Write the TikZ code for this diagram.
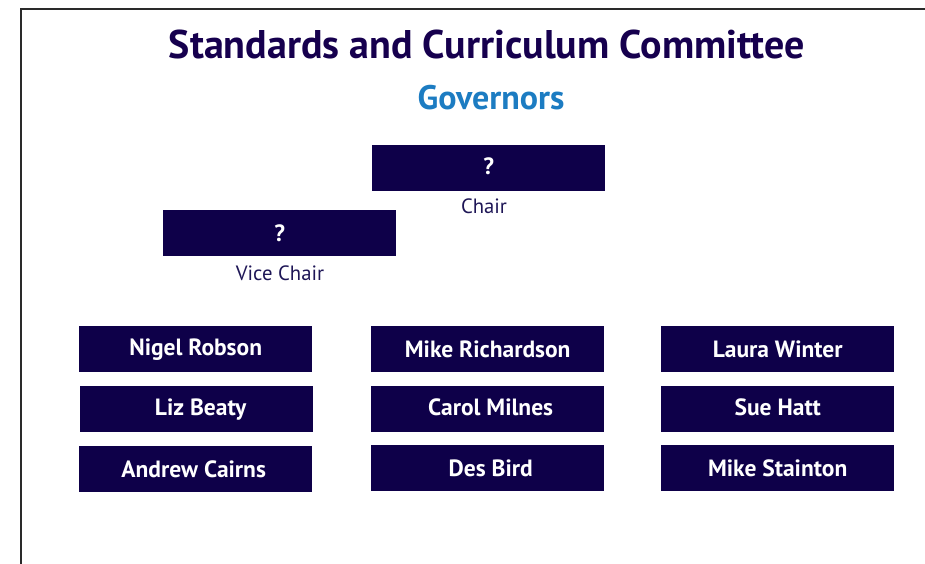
\documentclass[tikz,border=0pt]{standalone}
\usepackage{fontspec}
\setmainfont{PT Sans}
\definecolor{navy}{HTML}{0E0049}
\definecolor{titlec}{HTML}{16004E}
\definecolor{govblue}{HTML}{1C7CC2}
\definecolor{labelc}{HTML}{1E1656}
\definecolor{framec}{HTML}{2A2A2A}
\begin{document}
\begin{tikzpicture}[x=1pt,y=1pt,
  namebox/.style={fill=navy,text=white,minimum width=233pt,minimum height=46pt,inner sep=0pt,
    font=\fontsize{23.5}{26}\selectfont\bfseries},
  rolelabel/.style={text=labelc,font=\fontsize{20.7}{24}\selectfont,inner sep=0pt}]
\useasboundingbox (0,0) rectangle (925,564);
\clip (0,0) rectangle (925,564);
\draw[framec,line width=2.8pt] (21,-10) -- (21,555) -- (940,555);
\node[text=titlec,font=\fontsize{40}{44}\selectfont\bfseries,inner sep=0pt] (title) at (487,519) {Standards and Curriculum Committee};
\node[text=govblue,font=\fontsize{34}{38}\selectfont\bfseries,inner sep=0pt] (gov) at (491,466) {Governors};
% chair
\node[namebox,anchor=north west] (chair) at (372,419) {\raisebox{4pt}{?}};
\node[rolelabel] (chairl) at (484,358) {Chair};
\node[namebox,anchor=north west] (vice) at (163,354) {?};
\node[rolelabel] (vicel) at (280,291) {Vice Chair};
% column 1
\node[namebox,anchor=north west] (n1) at (79,238) {Nigel Robson};
\node[namebox,anchor=north west] (n2) at (80,178) {\hspace*{8pt}Liz Beaty};
\node[namebox,anchor=north west] (n3) at (79,118) {Andrew Cairns\hspace*{4pt}};
% column 2
\node[namebox,anchor=north west] (m1) at (371,238) {Mike Richardson};
\node[namebox,anchor=north west] (m2) at (371,178) {\hspace*{6pt}\raisebox{4pt}{Carol Milnes}};
\node[namebox,anchor=north west] (m3) at (371,119) {\hspace*{6pt}Des Bird};
% column 3
\node[namebox,anchor=north west] (l1) at (661,238) {Laura Winter};
\node[namebox,anchor=north west] (l2) at (661,178) {\raisebox{4pt}{Sue Hatt}};
\node[namebox,anchor=north west] (l3) at (661,119) {Mike Stainton};
\end{tikzpicture}
\end{document}
